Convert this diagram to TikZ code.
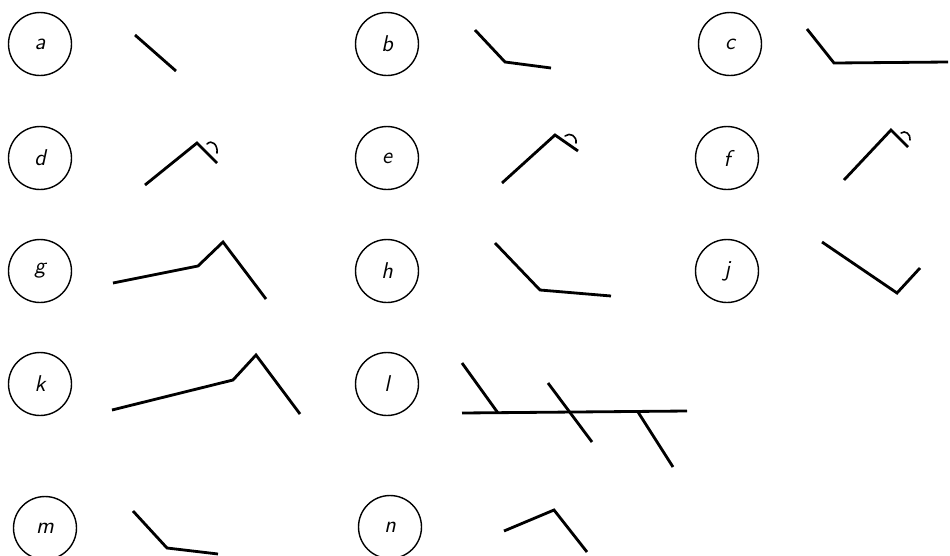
\documentclass[tikz,border=0pt]{standalone}
\usepackage{tikz}

\begin{document}
\begin{tikzpicture}[
    x=0.02cm,
    y=-0.02cm,
    tag/.style={
        circle,
        draw,
        line width=0.8pt,
        minimum size=1.26cm,
        inner sep=0pt,
        font=\fontsize{13}{15}\selectfont\sffamily\slshape,
    },
    stroke/.style={
        line width=1.6pt,
        line join=miter,
    },
    hook/.style={
        line width=0.9pt,
        line cap=round,
    }
]
    \useasboundingbox (0,0) rectangle (950,555);

    % Tags
    \node[tag] (a) at (40,44) {a};
    \node[tag] (b) at (387,44) {b};
    \node[tag] (c) at (730,44) {c};
    \node[tag] (d) at (40,158) {d};
    \node[tag] (e) at (387,158) {e};
    \node[tag] (f) at (727,158) {f};
    \node[tag] (g) at (40,271) {g};
    \node[tag] (h) at (387,271) {h};
    \node[tag] (j) at (727,271) {j};
    \node[tag] (k) at (40,384) {k};
    \node[tag] (l) at (387,384) {l};
    \node[tag] (m) at (45,528) {m};
    \node[tag] (n) at (390,527) {n};

    % Strokes
    \draw[stroke] (135,35) -- (176,71);
    \draw[stroke] (475,30) -- (505,62) -- (551,68);
    \draw[stroke] (807,29) -- (834,63) -- (948,62);

    \draw[stroke] (145,185) -- (197,143) -- (217,163);
    \draw[hook] (207,144) .. controls (212,139) and (218,145) .. (217,153);
    \draw[stroke] (502,183) -- (555,135) -- (578,151);
    \draw[hook] (565,136) .. controls (570,132) and (577,136) .. (576,143);
    \draw[stroke] (844,180) -- (891,130) -- (908,147);
    \draw[hook] (901,133) .. controls (905,130) and (911,134) .. (910,140);

    \draw[stroke] (113,283) -- (198,266) -- (223,242) -- (266,299);
    \draw[stroke] (495,243) -- (540,290) -- (611,296);
    \draw[stroke] (822,242) -- (897,293) -- (920,268);

    \draw[stroke] (112,410) -- (233,380) -- (256,355) -- (300,414);
    \draw[stroke] (462,413) -- (687,411);
    \draw[stroke] (462,363) -- (498,413);
    \draw[stroke] (548,383) -- (592,442);
    \draw[stroke] (638,412) -- (673,467);

    \draw[stroke] (133,511) -- (167,548) -- (218,554);
    \draw[stroke] (504,531) -- (554,510) -- (587,552);
\end{tikzpicture}
\end{document}
